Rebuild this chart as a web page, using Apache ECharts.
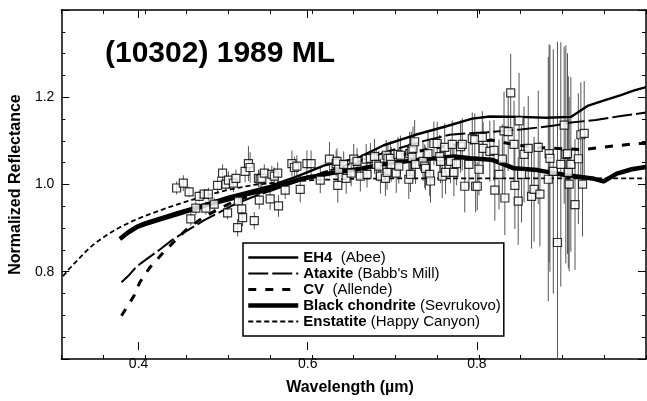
<!DOCTYPE html>
<html><head><meta charset="utf-8">
<script src="https://cdn.jsdelivr.net/npm/echarts@6/dist/echarts.min.js"></script>
<style>html,body{margin:0;padding:0;background:#fff}#c{width:647px;height:401px}</style>
</head><body><div id="c"></div>
<script>
const FONT = '"Liberation Sans", Arial, Helvetica, sans-serif';
const titleText = '(10302) 1989 ML';
const xTickValues = [0.4, 0.6, 0.8];

// Observed spectrum (squares with error bars)
const obsWavelength = [
 0.438,0.446,0.453,0.455,0.461,0.465,0.471,0.473,0.476,0.483,
 0.487,0.493,0.497,0.499,0.500,0.506,0.509,0.511,0.512,0.516,
 0.517,0.520,0.524,0.526,0.531,0.536,0.537,0.538,0.540,0.543,
 0.550,0.552,0.555,0.559,0.560,0.568,0.576,0.579,0.582,0.586,
 0.594,0.599,0.610,0.621,0.629,0.630,0.631,0.632,0.638,0.641,
 0.647,0.650,0.654,0.658,0.665,0.666,0.670,0.675,0.677,0.680,
 0.682,0.688,0.689,0.690,0.691,0.694,0.695,0.701,0.703,0.704,
 0.706,0.716,0.717,0.718,0.719,0.720,0.721,0.723,0.724,0.733,
 0.735,0.736,0.739,0.741,0.742,0.746,0.750,0.753,0.754,0.756,
 0.759,0.760,0.766,0.768,0.770,0.773,0.778,0.780,0.783,0.788,
 0.792,0.795,0.796,0.798,0.800,0.804,0.805,0.813,0.818,0.819,
 0.824,0.828,0.830,0.831,0.835,0.838,0.842,0.843,0.847,0.848,
 0.851,0.854,0.859,0.863,0.866,0.871,0.873,0.883,0.884,0.885,
 0.889,0.894,0.898,0.902,0.904,0.906,0.907,0.908,0.910,0.915,
 0.919,0.922,0.924,0.926];
const obsReflectance = [
 0.992,1.003,0.983,0.921,0.946,0.973,0.978,0.946,0.978,0.955,
 0.998,1.026,1.001,0.935,1.010,1.003,1.014,0.901,0.962,0.944,
 0.924,1.030,1.048,1.039,0.917,1.014,0.964,1.012,1.014,1.026,
 0.967,1.023,1.019,1.026,0.951,0.987,1.048,1.039,1.042,0.989,
 1.048,1.048,1.010,1.058,1.048,1.053,0.998,1.035,1.046,1.014,
 1.026,1.058,1.053,1.019,1.058,1.023,1.060,1.064,1.046,1.042,
 1.019,1.014,1.067,1.028,1.060,1.060,1.046,1.026,1.069,1.042,
 1.067,1.012,1.071,1.023,1.076,1.062,1.083,1.098,1.046,1.053,
 1.042,1.037,1.071,1.023,1.008,1.094,1.094,1.064,1.053,1.019,
 1.085,1.028,1.053,1.092,1.028,1.048,1.087,1.092,0.996,1.046,
 1.105,1.103,0.996,0.996,1.035,1.108,1.083,1.076,1.078,0.987,
 1.023,1.058,1.123,0.969,1.121,1.210,1.092,0.998,0.962,1.146,
 1.023,1.069,1.083,0.973,0.989,1.085,0.978,1.012,1.071,1.060,
 1.030,0.867,1.046,1.136,1.069,1.071,1.028,1.001,1.046,0.954,
 1.059,1.114,1.001,1.117];
const obsError = [
 0.015,0.018,0.012,0.015,0.015,0.012,0.012,0.015,0.015,0.015,
 0.020,0.020,0.015,0.015,0.020,0.020,0.020,0.020,0.015,0.015,
 0.020,0.025,0.040,0.035,0.020,0.020,0.020,0.020,0.020,0.020,
 0.025,0.020,0.020,0.025,0.025,0.020,0.030,0.025,0.025,0.030,
 0.030,0.030,0.030,0.040,0.030,0.030,0.040,0.030,0.030,0.035,
 0.030,0.035,0.030,0.035,0.035,0.030,0.035,0.040,0.035,0.035,
 0.040,0.040,0.035,0.040,0.035,0.040,0.040,0.045,0.040,0.040,
 0.045,0.045,0.050,0.040,0.045,0.045,0.050,0.050,0.045,0.045,
 0.050,0.050,0.050,0.050,0.050,0.050,0.050,0.050,0.050,0.050,
 0.055,0.050,0.050,0.055,0.055,0.050,0.060,0.060,0.060,0.055,
 0.060,0.060,0.060,0.055,0.060,0.060,0.060,0.070,0.070,0.070,
 0.080,0.080,0.090,0.085,0.090,0.090,0.100,0.100,0.100,0.110,
 0.110,0.110,0.120,0.120,0.120,0.130,0.120,0.280,0.250,0.260,
 0.280,0.460,0.280,0.180,0.250,0.230,0.220,0.200,0.200,0.150,
 0.150,0.120,0.120,0.120];

// Meteorite spectra [wavelength, reflectance]
const eh4Abee = [[0.370,0.877],[0.38,0.893],[0.39,0.905],[0.40,0.913],[0.42,0.925],[0.44,0.937],[0.46,0.948],[0.48,0.960],[0.50,0.972],[0.52,0.982],[0.55,0.997],[0.58,1.017],[0.615,1.044],[0.654,1.060],[0.686,1.090],[0.724,1.114],[0.76,1.133],[0.792,1.151],[0.813,1.156],[0.85,1.155],[0.88,1.153],[0.91,1.155],[0.93,1.180],[0.95,1.193],[0.97,1.205],[0.985,1.215],[1.0,1.223]];
const ataxiteBabbsMill = [[0.372,0.776],[0.38,0.790],[0.39,0.812],[0.40,0.826],[0.418,0.851],[0.432,0.872],[0.446,0.889],[0.46,0.905],[0.47,0.917],[0.493,0.940],[0.509,0.956],[0.53,0.972],[0.55,0.985],[0.58,1.005],[0.61,1.025],[0.65,1.050],[0.69,1.075],[0.73,1.098],[0.765,1.114],[0.786,1.117],[0.81,1.120],[0.85,1.126],[0.89,1.135],[0.91,1.142],[0.94,1.148],[0.97,1.157],[1.0,1.165]];
const cvAllende = [[0.372,0.699],[0.387,0.745],[0.394,0.776],[0.406,0.810],[0.422,0.844],[0.434,0.867],[0.45,0.897],[0.47,0.925],[0.50,0.955],[0.53,0.978],[0.56,0.995],[0.60,1.020],[0.65,1.045],[0.70,1.065],[0.75,1.085],[0.80,1.098],[0.815,1.102],[0.843,1.091],[0.87,1.085],[0.90,1.082],[0.925,1.080],[0.945,1.085],[0.965,1.089],[0.99,1.094],[1.0,1.094]];
const blackChondriteSevrukovo = [[0.370,0.875],[0.38,0.890],[0.39,0.902],[0.40,0.909],[0.42,0.921],[0.44,0.933],[0.46,0.945],[0.48,0.956],[0.50,0.966],[0.52,0.977],[0.55,0.990],[0.585,1.012],[0.62,1.025],[0.66,1.037],[0.69,1.048],[0.73,1.057],[0.77,1.064],[0.79,1.060],[0.815,1.057],[0.83,1.046],[0.842,1.037],[0.87,1.033],[0.89,1.026],[0.91,1.020],[0.936,1.014],[0.949,1.007],[0.965,1.025],[0.983,1.035],[1.0,1.040]];
const enstatiteHappyCanyon = [[0.302,0.790],[0.31,0.808],[0.32,0.828],[0.33,0.848],[0.34,0.865],[0.355,0.885],[0.37,0.902],[0.385,0.916],[0.40,0.928],[0.42,0.942],[0.44,0.955],[0.46,0.967],[0.48,0.978],[0.50,0.988],[0.53,0.999],[0.56,1.005],[0.60,1.010],[0.65,1.013],[0.70,1.014],[0.80,1.014],[0.90,1.014],[1.0,1.014]];

const legendBold = {'EH4':'EH4 ', 'Ataxite':'Ataxite', 'CV':'CV ', 'Black chondrite':'Black chondrite', 'Enstatite':'Enstatite'};
const legendPlain = {'EH4':'(Abee)', 'Ataxite':'(Babb\'s Mill)', 'CV':'(Allende)', 'Black chondrite':'(Sevrukovo)', 'Enstatite':'(Happy Canyon)'};

const lineStyles = {
  'EH4': {width:2.4, type:'solid'},
  'Ataxite': {width:2, type:[20,4]},
  'CV': {width:3, type:[8,9]},
  'Black chondrite': {width:4.5, type:'solid'},
  'Enstatite': {width:1.8, type:[5,3]}
};

const chart = echarts.init(document.getElementById('c'), null, {renderer:'canvas'});
const axisCommon = {
  type:'value', splitLine:{show:false},
  axisLine:{show:true, lineStyle:{color:'#000', width:1.5}},
  axisLabel:{show:false}
};
const gridRect = {left:54, right:1, top:10, bottom:42};
function lineSeries(name, data) {
  return {name, type:'line', data, xAxisIndex:0, yAxisIndex:0, symbol:'none', showSymbol:false,
    lineStyle:Object.assign({color:'#000'}, lineStyles[name]), itemStyle:{color:'#000'}, z:3, silent:true};
}
const legendNames = ['EH4','Ataxite','CV','Black chondrite','Enstatite'];
chart.setOption({
  animation:false,
  backgroundColor:'#fff',
  textStyle:{fontFamily:FONT},
  title:{text:titleText, left:105, top:39, padding:0,
    textStyle:{fontFamily:FONT, fontSize:30, fontWeight:'bold', color:'#000'}},
  grid:[Object.assign({}, gridRect), Object.assign({}, gridRect)],
  xAxis:[
    Object.assign({}, axisCommon, {gridIndex:0, position:'bottom', min:0.3, max:1.0, interval:0.05,
      axisTick:{inside:true, length:4, lineStyle:{color:'#000'}}}),
    Object.assign({}, axisCommon, {gridIndex:0, position:'top', min:0.3, max:1.0, interval:0.05,
      axisTick:{inside:true, length:4, lineStyle:{color:'#000'}}}),
    {type:'value', gridIndex:1, position:'bottom', min:0.3, max:1.0, splitLine:{show:false},
      axisLine:{show:false},
      axisTick:{show:true, inside:true, length:8, customValues:xTickValues, lineStyle:{color:'#000'}},
      axisLabel:{show:true, customValues:xTickValues, formatter:v=>v.toFixed(1), fontSize:14, color:'#000', margin:7, fontFamily:FONT},
      name:'Wavelength (\u00b5m)', nameLocation:'middle', nameGap:30,
      nameTextStyle:{fontSize:16, fontWeight:'bold', color:'#000', fontFamily:FONT}},
    {type:'value', gridIndex:1, position:'top', min:0.3, max:1.0, splitLine:{show:false},
      axisLine:{show:false},
      axisTick:{show:true, inside:true, length:8, customValues:xTickValues, lineStyle:{color:'#000'}},
      axisLabel:{show:false}}
  ],
  yAxis:[
    Object.assign({}, axisCommon, {gridIndex:0, position:'left', min:0.6, max:1.4, interval:0.2,
      axisTick:{inside:true, length:8, lineStyle:{color:'#000'}},
      minorTick:{show:true, splitNumber:4, length:4, lineStyle:{color:'#000'}},
      axisLabel:{show:true, showMinLabel:false, showMaxLabel:false, formatter:v=>v.toFixed(1), fontSize:14, color:'#000', margin:7, fontFamily:FONT},
      name:'Normalized Reflectance', nameLocation:'middle', nameGap:20,
      nameTextStyle:{fontSize:16, fontWeight:'bold', color:'#000', fontFamily:FONT}}),
    Object.assign({}, axisCommon, {gridIndex:0, position:'right', min:0.6, max:1.4, interval:0.2,
      axisTick:{inside:true, length:8, lineStyle:{color:'#000'}},
      minorTick:{show:true, splitNumber:4, length:4, lineStyle:{color:'#000'}}}),
    {type:'value', gridIndex:1, min:0.6, max:1.4, show:false}
  ],
  legend:{
    data: legendNames.map(n => ({name:n, icon:'inherit',
      itemStyle:{opacity:0, color:'rgba(0,0,0,0)', borderWidth:0},
      lineStyle:Object.assign({color:'#000', opacity:1}, lineStyles[n])})),
    orient:'vertical', left:243, top:243, padding:[7,3,7,3], itemGap:1,
    itemWidth:50, itemHeight:14, selectedMode:false,
    borderColor:'#000', borderWidth:1.5, backgroundColor:'#fff',
    formatter: n => '{b|' + legendBold[n] + '} {p|' + legendPlain[n] + '}',
    textStyle:{fontFamily:FONT, fontSize:15, color:'#000', lineHeight:15,
      rich:{b:{fontWeight:'bold', fontSize:15, fontFamily:FONT, color:'#000'},
            p:{fontSize:15, fontFamily:FONT, color:'#000'}}}
  },
  series:[
    {type:'custom', xAxisIndex:0, yAxisIndex:0, silent:true, z:1,
      data: obsWavelength.map((w,i)=>[w, obsReflectance[i]-obsError[i], obsReflectance[i]+obsError[i]]),
      encode:{x:0, y:[1,2]},
      renderItem:(params, api) => {
        const lo = Math.max(api.value(1), 0.6), hi = Math.min(api.value(2), 1.4);
        const a = api.coord([api.value(0), lo]), b = api.coord([api.value(0), hi]);
        return {type:'line', shape:{x1:a[0], y1:a[1], x2:b[0], y2:b[1]}, style:{stroke:'#555', lineWidth:1}};
      }},
    lineSeries('EH4', eh4Abee),
    lineSeries('Ataxite', ataxiteBabbsMill),
    lineSeries('CV', cvAllende),
    lineSeries('Black chondrite', blackChondriteSevrukovo),
    lineSeries('Enstatite', enstatiteHappyCanyon),
    {type:'scatter', xAxisIndex:0, yAxisIndex:0, silent:true, z:4,
      data: obsWavelength.map((w,i)=>[w, obsReflectance[i]]),
      symbol:'rect', symbolSize:8,
      itemStyle:{color:'#fff', borderColor:'#000', borderWidth:1.2}}
  ]
});
</script></body></html>
